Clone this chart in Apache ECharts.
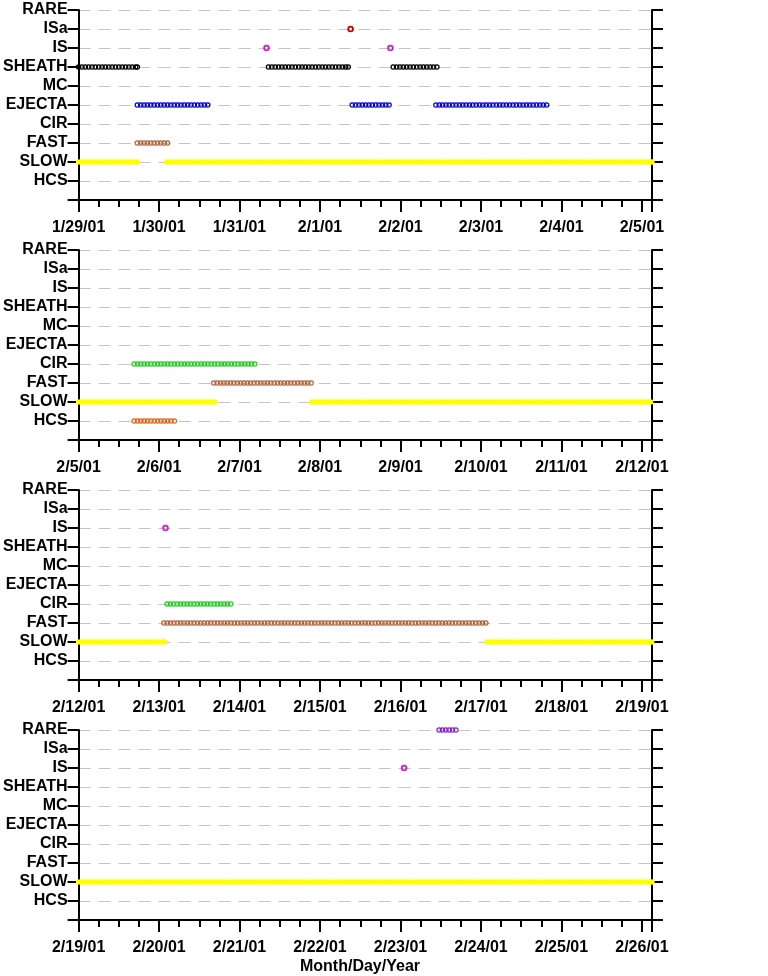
<!DOCTYPE html>
<html>
<head>
<meta charset="utf-8">
<script src="https://cdn.jsdelivr.net/npm/echarts@6/dist/echarts.min.js"></script>
<style>
html,body{margin:0;padding:0;background:#fff;}
#chart{width:768px;height:976px;}
</style>
</head>
<body>
<div id="chart"></div>
<script>
// x values: day number of 2001 (0 = Jan 1, 2001); 28 = 1/29/01
const PANEL_START = [28, 35, 42, 49];
const PANEL_SPAN = 7.125;
const TICK_LABELS = [
  ['1/29/01','1/30/01','1/31/01','2/1/01','2/2/01','2/3/01','2/4/01','2/5/01'],
  ['2/5/01','2/6/01','2/7/01','2/8/01','2/9/01','2/10/01','2/11/01','2/12/01'],
  ['2/12/01','2/13/01','2/14/01','2/15/01','2/16/01','2/17/01','2/18/01','2/19/01'],
  ['2/19/01','2/20/01','2/21/01','2/22/01','2/23/01','2/24/01','2/25/01','2/26/01']
];
const CATEGORIES = ['', 'HCS', 'SLOW', 'FAST', 'CIR', 'EJECTA', 'MC', 'SHEATH', 'IS', 'ISa', 'RARE'];

// intervals [start, end] in day-of-2001
const SLOW   = [[28.00, 28.73], [29.10, 36.69], [37.90, 43.07], [47.08, 56.125]];
const FAST   = [[28.73, 29.11], [36.68, 37.90], [43.06, 47.07]];
const HCS    = [[35.69, 36.19]];
const CIR    = [[35.69, 37.19], [43.10, 43.90]];
const EJECTA = [[28.73, 29.61], [31.40, 31.87], [32.44, 33.82]];
const MC     = [];
const SHEATH = [[28.00, 28.73], [30.36, 31.35], [31.91, 32.46]];
const IS     = [[30.335, 30.335], [31.875, 31.875], [43.08, 43.08], [53.045, 53.045]];
const ISa    = [[31.38, 31.38]];
const RARE   = [[53.48, 53.70]];

const SERIES_DEF = [
  {name:'SLOW',   data:SLOW,   level:2,  color:'#ffff00', filled:true},
  {name:'HCS',    data:HCS,    level:1,  color:'#e0661a'},
  {name:'FAST',   data:FAST,   level:3,  color:'#b5623a'},
  {name:'CIR',    data:CIR,    level:4,  color:'#22cc22'},
  {name:'EJECTA', data:EJECTA, level:5,  color:'#0000cc'},
  {name:'MC',     data:MC,     level:6,  color:'#000000'},
  {name:'SHEATH', data:SHEATH, level:7,  color:'#000000'},
  {name:'IS',     data:IS,     level:8,  color:'#cc22cc'},
  {name:'ISa',    data:ISa,    level:9,  color:'#cc0000'},
  {name:'RARE',   data:RARE,   level:10, color:'#8822cc'}
];

const FONT = "'Liberation Sans', Arial, sans-serif";
const STEP = 1/24;

function makeRender(def) {
  return function (params, api) {
    const s = api.value(0), e = api.value(1), lvl = api.value(2);
    const children = [];
    const n = Math.max(0, Math.round((e - s) / STEP));
    const single = (e - s) < 1e-9;
    for (let k = 0; k <= n; k++) {
      const t = single ? s : Math.min(e, s + k * STEP);
      const p = api.coord([t, lvl]);
      if (def.filled) {
        children.push({type:'circle', shape:{cx:p[0], cy:p[1], r:2.7},
          style:{fill:def.color, stroke:null}});
      } else {
        children.push({type:'circle', shape:{cx:p[0], cy:p[1], r: single ? 2.4 : 2.2},
          style:{fill:null, stroke:def.color, lineWidth: single ? 1.8 : 1.2}});
      }
    }
    return {type:'group', children};
  };
}

const grids = [], xAxes = [], yAxes = [], series = [];
PANEL_START.forEach((start, i) => {
  const min = start, max = start + PANEL_SPAN;
  grids.push({left:78, width:574, top:10 + 240*i, height:190});
  // major x axis
  xAxes.push({
    type:'value', gridIndex:i, min, max, interval:1, position:'bottom',
    axisLine:{show:true, onZero:false, lineStyle:{color:'#000', width:2}},
    axisTick:{show:true, length:12, lineStyle:{color:'#000', width:2}},
    axisLabel:{show:true, margin:20, color:'#000', fontWeight:'bold', fontSize:16, fontFamily:FONT,
      formatter:(v) => {
        const r = Math.round(v);
        if (Math.abs(v - r) > 1e-6) return '';
        return TICK_LABELS[i][r - min] || '';
      }},
    splitLine:{show:false}
  });
  // minor x axis (quarter days)
  xAxes.push({
    type:'value', gridIndex:i, min, max, interval:0.25, position:'bottom',
    axisLine:{show:false, onZero:false},
    axisTick:{show:true, length:7, lineStyle:{color:'#000', width:2}},
    axisLabel:{show:false},
    splitLine:{show:false}
  });
  yAxes.push({
    type:'value', gridIndex:i, min:0, max:10, interval:1, position:'left',
    axisLine:{show:true, onZero:false, lineStyle:{color:'#000', width:2}},
    axisTick:{show:true, length:11, lineStyle:{color:'#000', width:2}},
    axisLabel:{show:true, margin:11, color:'#000', fontWeight:'bold', fontSize:16, fontFamily:FONT,
      formatter:(v) => CATEGORIES[Math.round(v)] || ''},
    splitLine:{show:true, lineStyle:{color:'#c4c4c4', width:1, type:[12, 8]}}
  });
  yAxes.push({
    type:'value', gridIndex:i, min:0, max:10, interval:1, position:'right',
    axisLine:{show:true, onZero:false, lineStyle:{color:'#000', width:2}},
    axisTick:{show:true, length:11, lineStyle:{color:'#000', width:2}},
    axisLabel:{show:false},
    splitLine:{show:false}
  });
  SERIES_DEF.forEach(def => {
    const items = [];
    def.data.forEach(iv => {
      if (iv[1] < min || iv[0] > max) return;
      items.push([Math.max(iv[0], min), Math.min(iv[1], max), def.level]);
    });
    if (!items.length) return;
    series.push({
      type:'custom', name:def.name, xAxisIndex:2*i, yAxisIndex:2*i,
      renderItem:makeRender(def), data:items,
      encode:{x:[0,1], y:2}, silent:true, animation:false,
      z: def.filled ? 2 : 3
    });
  });
});

const chart = echarts.init(document.getElementById('chart'), null, {renderer:'canvas'});
chart.setOption({
  backgroundColor:'#ffffff',
  animation:false,
  grid:grids, xAxis:xAxes, yAxis:yAxes, series,
  graphic:[{type:'text', left:null, x:360, y:967,
    style:{text:'Month/Day/Year', fill:'#000', font:"bold 16px " + FONT, textAlign:'center', textVerticalAlign:'middle'}}]
});
</script>
</body>
</html>
